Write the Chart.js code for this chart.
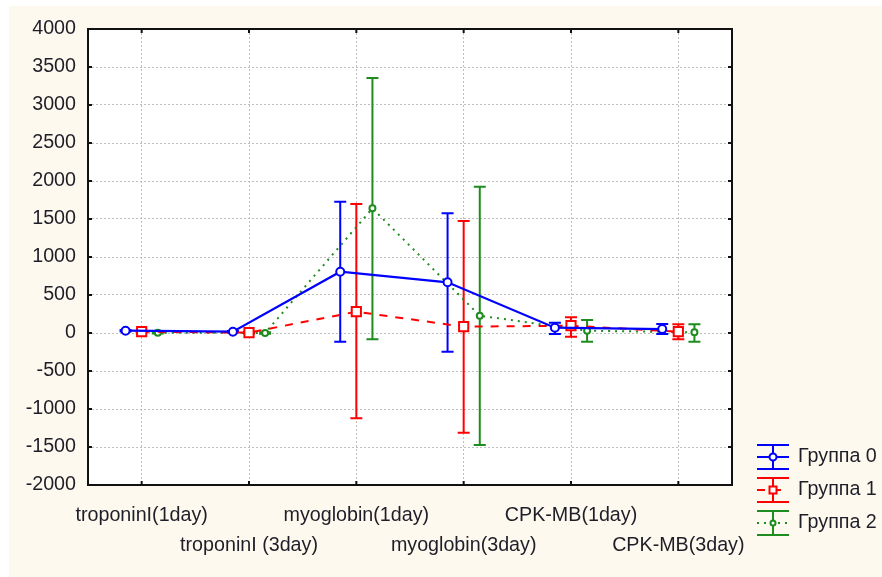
<!DOCTYPE html>
<html>
<head>
<meta charset="utf-8">
<script src="https://cdn.jsdelivr.net/npm/chart.js@4.4.1/dist/chart.umd.min.js"></script>
<style>
html, body { margin: 0; padding: 0; background: #fff; }
canvas { display: block; }
</style>
</head>
<body>
<canvas id="myChart" width="882" height="577"></canvas>
<script>
const categories = ['troponinI(1day)', 'troponinI (3day)', 'myoglobin(1day)', 'myoglobin(3day)', 'CPK-MB(1day)', 'CPK-MB(3day)'];
const yTicks = [-2000, -1500, -1000, -500, 0, 500, 1000, 1500, 2000, 2500, 3000, 3500, 4000];

const group0Mean = [30, 17, 807, 667, 70, 52];
const group0Low  = [20, 7, -114, -246, -13, -13];
const group0High = [40, 27, 1728, 1575, 136, 118];

const group1Mean = [17, 5, 280, 83, 96, 17];
const group1Low  = [7, -5, -1123, -1311, -49, -83];
const group1High = [27, 15, 1697, 1474, 206, 114];

const group2Mean = [4, 0, 1640, 228, 30, 9];
const group2Low  = [-6, -10, -83, -1474, -114, -114];
const group2High = [14, 10, 3355, 1925, 171, 114];

const textColor = '#1e1e28';
const gridColor = '#bdbdbd';
const fontSize = 19.7;
Chart.defaults.font.family = "'Liberation Sans', Arial, sans-serif";

// shift each group a bit left/right of its category
function points(vals, shift) {
    return vals.map((v, i) => ({ x: i + shift, y: v }));
}

const bgPlugin = {
    id: 'bg',
    beforeDraw(chart) {
        const c = chart.ctx;
        c.save();
        c.fillStyle = '#ffffff';
        c.fillRect(0, 0, chart.width, chart.height);
        c.fillStyle = '#fef9ee';
        c.fillRect(9, 6, chart.width - 9, chart.height - 6);
        const a = chart.chartArea;
        c.fillStyle = '#ffffff';
        c.fillRect(a.left, a.top, a.right - a.left, a.bottom - a.top);
        c.restore();
    }
};

const errorBars = {
    id: 'errorBars',
    beforeDatasetsDraw(chart) {
        const c = chart.ctx;
        const xs = chart.scales.x, ys = chart.scales.y;
        c.save();
        chart.data.datasets.forEach(ds => {
            ds.data.forEach((p, i) => {
                const x = xs.getPixelForValue(p.x);
                const yl = ys.getPixelForValue(ds.low[i]);
                const yh = ys.getPixelForValue(ds.high[i]);
                c.strokeStyle = ds.borderColor;
                c.lineWidth = 2;
                c.setLineDash([]);
                c.beginPath();
                c.moveTo(x, yl); c.lineTo(x, yh);
                c.moveTo(x - 6, yl); c.lineTo(x + 6, yl);
                c.moveTo(x - 6, yh); c.lineTo(x + 6, yh);
                c.stroke();
            });
        });
        c.restore();
    }
};

const frame = {
    id: 'frame',
    afterDraw(chart) {
        const c = chart.ctx;
        const a = chart.chartArea;
        c.save();
        c.strokeStyle = '#111';
        c.lineWidth = 2;
        c.strokeRect(a.left, a.top, a.right - a.left, a.bottom - a.top);
        c.beginPath();
        chart.scales.y.ticks.forEach(t => {
            const y = chart.scales.y.getPixelForValue(t.value);
            c.moveTo(a.left, y); c.lineTo(a.left + 4, y);
            c.moveTo(a.right, y); c.lineTo(a.right - 4, y);
        });
        chart.scales.x.ticks.forEach(t => {
            const x = chart.scales.x.getPixelForValue(t.value);
            c.moveTo(x, a.top); c.lineTo(x, a.top + 4);
            c.moveTo(x, a.bottom); c.lineTo(x, a.bottom - 4);
        });
        c.stroke();
        c.restore();
    }
};

// legend with error-bar glyphs
const sideLegend = {
    id: 'sideLegend',
    afterDraw(chart) {
        const c = chart.ctx;
        c.save();
        chart.data.datasets.forEach((ds, i) => {
            const cy = 457 + i * 33;
            const cx = 773;
            c.strokeStyle = ds.borderColor;
            c.lineWidth = 2;
            c.setLineDash([]);
            c.beginPath();
            c.moveTo(cx - 16, cy - 12); c.lineTo(cx + 16, cy - 12);
            c.moveTo(cx - 16, cy + 12); c.lineTo(cx + 16, cy + 12);
            c.moveTo(cx, cy - 12); c.lineTo(cx, cy + 12);
            c.stroke();
            c.setLineDash(ds.borderDash || []);
            c.beginPath();
            c.moveTo(cx - 16, cy); c.lineTo(cx + 16, cy);
            c.stroke();
            c.setLineDash([]);
            c.fillStyle = '#fff';
            c.beginPath();
            if (ds.pointStyle === 'rect') {
                c.rect(cx - 3.5, cy - 3.5, 7, 7);
            } else {
                c.arc(cx, cy, i === 2 ? 2.5 : 3.5, 0, Math.PI * 2);
            }
            c.fill();
            c.stroke();
            c.fillStyle = textColor;
            c.font = fontSize + "px 'Liberation Sans', Arial, sans-serif";
            c.textBaseline = 'middle';
            c.textAlign = 'left';
            c.fillText(ds.label, 798, cy);
        });
        c.restore();
    }
};

const ctx = document.getElementById('myChart').getContext('2d');
const chart = new Chart(ctx, {
    type: 'line',
    data: {
        datasets: [{
            label: 'Группа 0',
            data: points(group0Mean, -0.15),
            low: group0Low,
            high: group0High,
            borderColor: '#0000ff',
            backgroundColor: '#ffffff',
            borderWidth: 2.2,
            pointStyle: 'circle',
            pointRadius: 4,
            pointBorderWidth: 2,
            tension: 0
        }, {
            label: 'Группа 1',
            data: points(group1Mean, 0),
            low: group1Low,
            high: group1High,
            borderColor: '#ff0000',
            backgroundColor: '#ffffff',
            borderWidth: 2,
            borderDash: [8, 8],
            pointStyle: 'rect',
            pointRadius: 6.5,
            pointBorderWidth: 2,
            tension: 0
        }, {
            label: 'Группа 2',
            data: points(group2Mean, 0.15),
            low: group2Low,
            high: group2High,
            borderColor: '#1e8c1e',
            backgroundColor: '#ffffff',
            borderWidth: 2,
            borderDash: [2, 5],
            pointStyle: 'circle',
            pointRadius: 3,
            pointBorderWidth: 2,
            tension: 0
        }]
    },
    options: {
        responsive: false,
        animation: false,
        layout: {
            padding: { top: 29, right: 150, bottom: 0, left: 0 }
        },
        plugins: {
            legend: { display: false },
            tooltip: { enabled: false }
        },
        scales: {
            x: {
                type: 'linear',
                min: -0.5,
                max: 5.5,
                afterBuildTicks: s => {
                    s.ticks = categories.map((c, i) => ({ value: i }));
                },
                afterFit: s => { s.height = 92; },
                ticks: {
                    autoSkip: false,
                    maxRotation: 0,
                    padding: 16,
                    color: textColor,
                    font: { size: fontSize, lineHeight: '30px' },
                    callback: v => {
                        const i = Math.round(v);
                        return i % 2 === 0 ? [categories[i], ''] : ['', categories[i]];
                    }
                },
                grid: { color: gridColor, drawTicks: false },
                border: { display: false, dash: [2, 2] }
            },
            y: {
                min: -2000,
                max: 4000,
                afterBuildTicks: s => {
                    s.ticks = yTicks.map(v => ({ value: v }));
                },
                afterFit: s => { s.width = 88; },
                ticks: {
                    padding: 12,
                    color: textColor,
                    font: { size: fontSize },
                    callback: v => String(v)
                },
                grid: { color: gridColor, drawTicks: false },
                border: { display: false, dash: [2, 2] }
            }
        }
    },
    plugins: [bgPlugin, errorBars, frame, sideLegend]
});
</script>
</body>
</html>
